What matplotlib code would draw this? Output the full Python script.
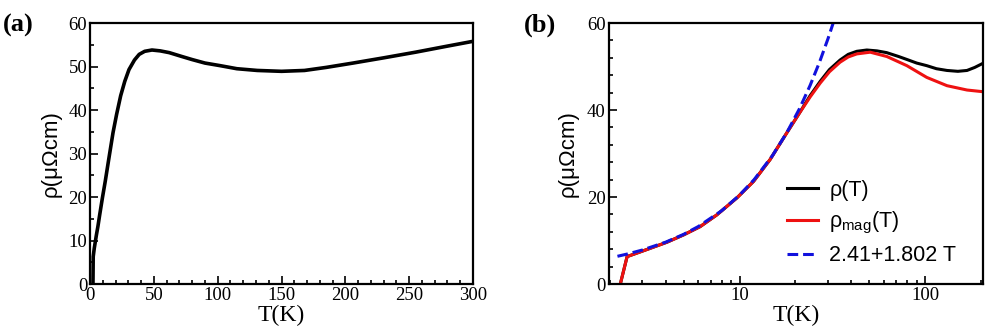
import matplotlib
matplotlib.use("Agg")
import matplotlib.pyplot as plt
from matplotlib.ticker import MultipleLocator, LogLocator, NullFormatter, FixedLocator, FixedFormatter

# rho(T), shared by both panels
T_rho = [2.28, 2.48, 3.3, 4.06, 5.0, 6.14, 7.55, 9.68, 11.9, 14.6, 18.0, 20.8, 24.0, 27.2,
         30.5, 34.8, 38.5, 42.8, 48.5, 55, 62, 72, 80, 90, 102, 115, 131, 150, 168, 185,
         206, 230, 255, 280, 300]
rho = [0, 6.3, 8.2, 9.6, 11.3, 13.2, 15.9, 19.8, 23.6, 28.6, 34.8, 39.0, 43.3, 46.6,
       49.3, 51.5, 52.8, 53.5, 53.8, 53.6, 53.2, 52.3, 51.6, 50.8, 50.2, 49.5, 49.1, 48.9,
       49.1, 49.8, 50.8, 52.0, 53.3, 54.7, 55.8]

# magnetic part rho_mag(T)
T_mag = [2.28, 2.48, 3.3, 4.06, 5.0, 6.14, 7.55, 9.68, 11.9, 14.6, 18.0, 20.8, 24.0, 27.2,
         30.5, 34.8, 38.5, 42.8, 50.6, 62.2, 79.7, 102, 131, 168, 206]
rho_mag = [0, 6.3, 8.2, 9.6, 11.3, 13.2, 15.9, 19.8, 23.6, 28.6, 34.8, 39.0, 43.0, 46.2,
           48.8, 51.0, 52.2, 52.9, 53.3, 52.3, 50.2, 47.5, 45.6, 44.6, 44.2]

# dashed fit line 2.41+1.802 T
T_fit = [2.2, 2.5, 3, 4, 5, 6, 8, 10, 12, 15, 18, 21, 24, 27, 30, 32.3]
rho_fit = [6.37, 6.92, 7.82, 9.62, 11.42, 13.22, 16.83, 20.43, 24.03, 29.44, 34.85,
           40.25, 45.66, 51.06, 56.47, 60.61]

serif = "Liberation Serif"
sans = "Liberation Sans"
plt.rcParams["font.family"] = serif
plt.rcParams["mathtext.fontset"] = "custom"
plt.rcParams["mathtext.rm"] = sans
plt.rcParams["mathtext.it"] = sans + ":italic"

fig = plt.figure(figsize=(9.95, 3.34), dpi=100)
ax1 = fig.add_axes([0.0905, 0.1497, 0.3849, 0.7813])
ax2 = fig.add_axes([0.6116, 0.1497, 0.3764, 0.7813])

for ax in (ax1, ax2):
    for s in ax.spines.values():
        s.set_linewidth(1.6)
    ax.tick_params(which="both", direction="in", top=False, right=False, width=1.2,
                   labelsize=13.5)
    ax.tick_params(axis="x", pad=2.5)
    ax.tick_params(axis="y", pad=2)
    ax.tick_params(which="major", length=5.5)
    ax.tick_params(which="minor", length=3)

# panel (a)
ax1.plot(T_rho, rho, color="black", lw=2.6)
ax1.set_xlim(0, 300)
ax1.set_ylim(0, 60)
ax1.xaxis.set_major_locator(MultipleLocator(50))
ax1.xaxis.set_minor_locator(MultipleLocator(10))
ax1.yaxis.set_major_locator(MultipleLocator(10))
ax1.yaxis.set_minor_locator(MultipleLocator(5))
ax1.set_xlabel("T(K)", fontsize=17, labelpad=0)
ax1.set_ylabel("ρ(μΩcm)", family=sans, fontsize=16, labelpad=5)

# panel (b)
ax2.plot(T_rho, rho, color="black", lw=2.2, label="ρ(T)")
ax2.plot(T_mag, rho_mag, color="#ee1111", lw=2.2, label="ρ$_{\\mathrm{mag}}$(T)")
ax2.plot(T_fit, rho_fit, color="#1111dd", lw=2.2, ls=(0, (3.5, 1.6)), label="2.41+1.802 T")
ax2.set_xscale("log")
ax2.set_xlim(1.97, 205)
ax2.set_ylim(0, 60)
ax2.xaxis.set_major_locator(FixedLocator([10, 100]))
ax2.xaxis.set_major_formatter(FixedFormatter(["10", "100"]))
ax2.xaxis.set_minor_locator(LogLocator(base=10, subs=range(2, 10)))
ax2.xaxis.set_minor_formatter(NullFormatter())
ax2.yaxis.set_major_locator(MultipleLocator(20))
ax2.yaxis.set_minor_locator(MultipleLocator(4))
ax2.set_xlabel("T(K)", fontsize=17, labelpad=0)
ax2.set_ylabel("ρ(μΩcm)", family=sans, fontsize=16, labelpad=6)

leg = ax2.legend(loc="upper left", bbox_to_anchor=(0.449, 0.44), frameon=False,
                 prop={"family": sans, "size": 15.5}, handlelength=1.4,
                 handletextpad=0.55, labelspacing=0.42, borderpad=0)

fig.text(0.003, 0.925, "(a)", weight="bold", fontsize=19, va="center")
fig.text(0.527, 0.925, "(b)", weight="bold", fontsize=19, va="center")

fig.savefig("out.png", dpi=100)
